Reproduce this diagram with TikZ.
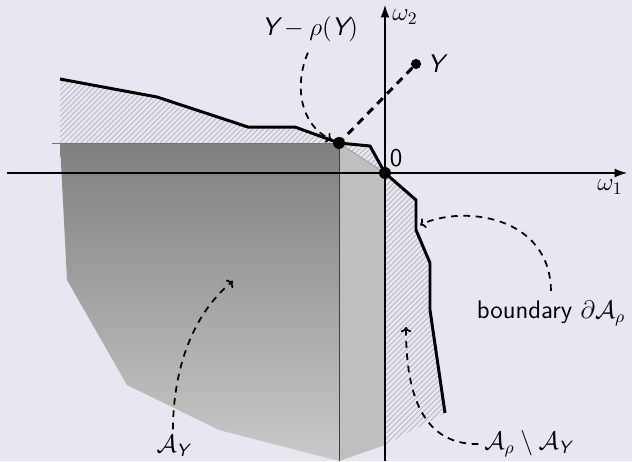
\documentclass[tikz,border=0pt]{standalone}
\usepackage{amsmath,amssymb}
\usepackage{fontspec}
\usepackage{tikz}
\usetikzlibrary{arrows.meta,patterns,positioning}
\definecolor{slidebg}{RGB}{231,231,241}
\definecolor{hatchgray}{RGB}{178,178,186}
\newcommand{\vY}{\text{\sffamily\slshape Y}}

\begin{document}
\begin{tikzpicture}[x=0.02cm,y=-0.02cm,
  every node/.style={font=\sffamily\fontsize{14.5}{17}\selectfont},
  dotnode/.style={circle,fill=black,inner sep=0pt,minimum size=#1},
  dotnode/.default=6.5pt,
  hatch/.style={pattern=north east lines,pattern color=hatchgray},
  guide/.style={line width=1pt,dash pattern=on 3.8pt off 3.2pt,-{To[length=3pt,width=6pt]}},
  bnd/.style={line width=1.7pt,line join=miter}]
 \useasboundingbox[fill=slidebg] (0,0) rectangle (632,461);
 % the set A_Y (shaded) and the strip left of the axis
 \shade[top color=black!50,bottom color=black!21] (60,143) -- (339,143) -- (339,461)
   -- (219,430) -- (127,385) -- (67,280) -- cycle;
 \fill[black!25] (339,143) -- (385,173) -- (385,445) -- (339,461) -- cycle;
 % A_rho minus A_Y
 \fill[hatch] (60,79) -- (157,97) -- (248,127) -- (295,127) -- (339,143) -- (60,143) -- cycle;
 \fill[hatch] (339,143) -- (370,146) -- (385,173) -- cycle;
 \fill[hatch] (385,173) -- (416,200) -- (416,230) -- (430,263) -- (430,310) -- (445,413) -- (385,445) -- cycle;
 \draw[black!55,line width=0.5pt] (52,143) -- (339,143);
 \draw[black!40,line width=0.4pt] (339,143) -- (385,173);
 \draw[black!75,line width=0.5pt] (339,143) -- (339,461);
 % axes
 \draw[line width=0.6pt,-{Latex[length=7pt,width=5pt]}] (7,173) -- (627,173);
 \draw[line width=0.6pt,-{Latex[length=7pt,width=5pt]}] (385,461) -- (385,5);
 % boundary of A_rho
 \draw[bnd] (60,79) -- (157,97) -- (248,127) -- (295,127) -- (339,143) -- (370,146)
   -- (385,173) -- (416,200) -- (416,230) -- (430,263) -- (430,310) -- (445,413);
 \node[dotnode=6.8pt] (dotO) at (385,173) {};
 \node[dotnode=6.8pt] (dotP) at (339,143) {};
 \node[dotnode=5.8pt] (dotY) at (416,64) {};
 \draw[line width=1.7pt,dash pattern=on 4.5pt off 3.5pt] (dotY) -- (dotP);
 % labels
 \node (lblP) at (310,29) {$\vY-\rho(\vY)$};
 \node[right=0pt of dotY] (lblY) {$\vY$};
 \node (lblZero) at (396,158) {$\mathsf{0}$};
 \node (lblWa) at (610,187) {$\omega_1$};
 \node (lblWb) at (405,17) {$\omega_2$};
 \node (lblB) at (551,313) {boundary $\partial\mathcal{A}_\rho$};
 \node (lblD) at (528,444) {$\mathcal{A}_\rho\setminus\mathcal{A}_{\vY}$};
 \node (lblA) at (173,446) {$\mathcal{A}_{\vY}$};
 \coordinate (bpt) at (420,225);
 \coordinate (dpt) at (406,327);
 \coordinate (apt) at (233,281);
 % pointers
 \draw[guide,shorten >=1pt,shorten <=3pt] (lblP.south) .. controls (294,85) and (300,125) .. (dotP);
 \draw[guide,shorten <=2pt] (lblB.north) .. controls (550,215) and (462,205) .. (bpt);
 \draw[guide] (lblD.west) .. controls (416,445) and (406,381) .. (dpt);
 \draw[guide] (lblA.north) .. controls (173,378) and (188,318) .. (apt);
\end{tikzpicture}
\end{document}
